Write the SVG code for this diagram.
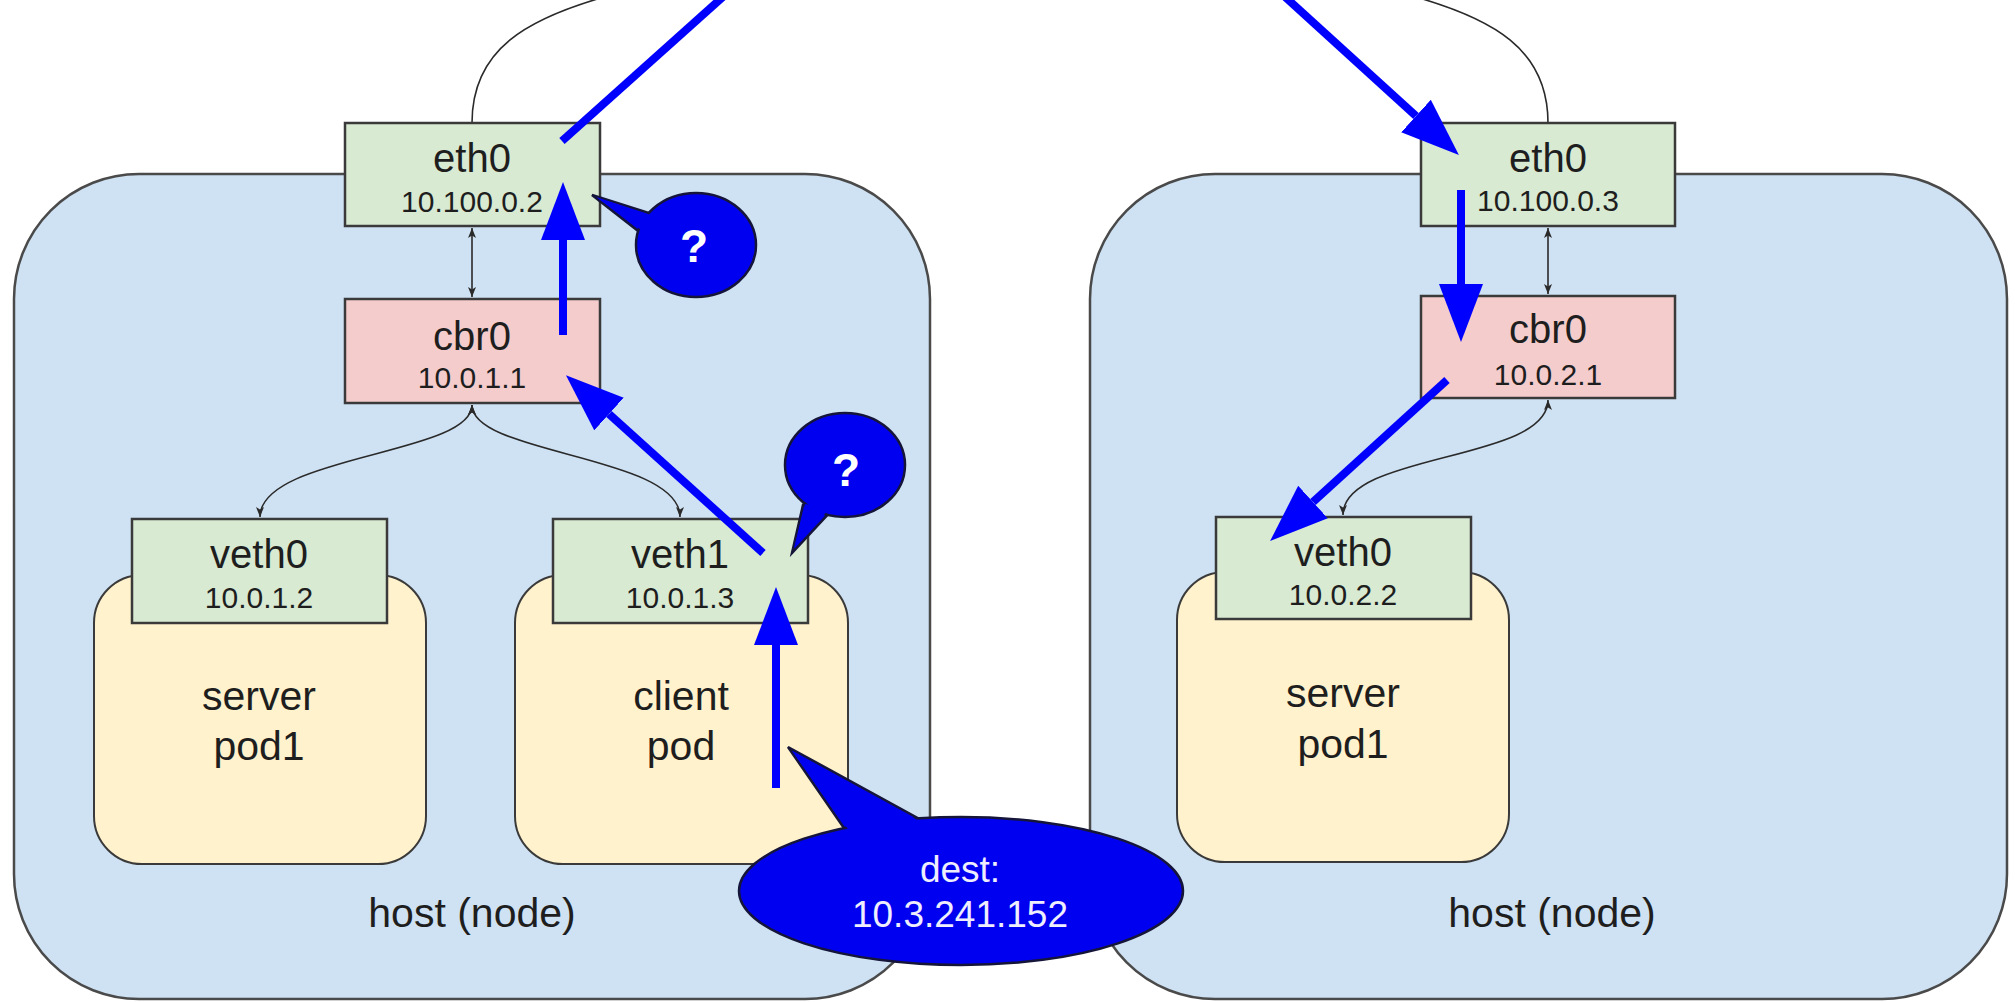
<svg xmlns="http://www.w3.org/2000/svg" width="2015" height="1002" viewBox="0 0 2015 1002">
<style>
.host{fill:#cfe2f3;stroke:#4a4a4a;stroke-width:2.5}
.pod{fill:#fff2cc;stroke:#3a3a3a;stroke-width:2}
.eth{fill:#d9ead3;stroke:#3a3a3a;stroke-width:2.5}
.br{fill:#f4cccc;stroke:#3a3a3a;stroke-width:2.5}
.name{font-family:"Liberation Sans",Arial,sans-serif;font-size:40px;fill:#1e1e1e;text-anchor:middle}
.ip{font-family:"Liberation Sans",Arial,sans-serif;font-size:30px;fill:#1e1e1e;text-anchor:middle}
.lbl{font-family:"Liberation Sans",Arial,sans-serif;font-size:41px;fill:#1e1e1e;text-anchor:middle}
.thin{fill:none;stroke:#2a2a2a;stroke-width:1.6}
.blue{fill:none;stroke:#0000ff;stroke-width:8}
.bub{fill:#0000f0;stroke:#15153a;stroke-width:2.5}
.bubf{fill:#0000f0;stroke:none}
.q{font-family:"Liberation Sans",Arial,sans-serif;font-size:46px;font-weight:bold;fill:#ffffff;text-anchor:middle}
.dt{font-family:"Liberation Sans",Arial,sans-serif;font-size:37px;fill:#eeeeff;text-anchor:middle}
</style>
<defs>
<marker id="sm" viewBox="0 0 10 8" refX="10" refY="4" markerWidth="10" markerHeight="8" markerUnits="userSpaceOnUse" orient="auto-start-reverse">
<path d="M0,0 L10,4 L0,8 L2.5,4 z" fill="#2a2a2a"/>
</marker>
<marker id="big" viewBox="0 0 58 44" refX="0" refY="22" markerWidth="58" markerHeight="44" markerUnits="userSpaceOnUse" orient="auto">
<path d="M0,0 L58,22 L0,44 z" fill="#0000ff"/>
</marker>
</defs>

<g id="host-left">
<rect class="host" x="14" y="174" width="916" height="825" rx="125" ry="125"/>
<text class="lbl" x="472" y="927">host (node)</text>
</g>
<g id="host-right">
<rect class="host" x="1090" y="174" width="917" height="825" rx="125" ry="125"/>
<text class="lbl" x="1552" y="927">host (node)</text>
</g>

<g id="pod-server-left">
<rect class="pod" x="94" y="575" width="332" height="289" rx="48" ry="48"/>
<text class="lbl" x="259" y="710">server</text>
<text class="lbl" x="259" y="760">pod1</text>
</g>
<g id="pod-client">
<rect class="pod" x="515" y="575" width="333" height="289" rx="48" ry="48"/>
<text class="lbl" x="681" y="710">client</text>
<text class="lbl" x="681" y="760">pod</text>
</g>
<g id="pod-server-right">
<rect class="pod" x="1177" y="572" width="332" height="290" rx="48" ry="48"/>
<text class="lbl" x="1343" y="707">server</text>
<text class="lbl" x="1343" y="758">pod1</text>
</g>

<g id="connectors">
<path class="thin" d="M472,123 C472,50 525,18 615,-6"/>
<path class="thin" d="M1548,123 C1548,50 1495,18 1405,-6"/>
<path class="thin" d="M472,228 L472,297" marker-start="url(#sm)" marker-end="url(#sm)"/>
<path class="thin" d="M1548,228 L1548,294" marker-start="url(#sm)" marker-end="url(#sm)"/>
<path class="thin" d="M472,405 C472,455 260,455 260,517" marker-start="url(#sm)" marker-end="url(#sm)"/>
<path class="thin" d="M472,405 C472,455 680,455 680,517" marker-start="url(#sm)" marker-end="url(#sm)"/>
<path class="thin" d="M1548,400 C1548,462 1343,452 1343,515" marker-start="url(#sm)" marker-end="url(#sm)"/>
</g>

<g id="eth0-left">
<rect class="eth" x="345" y="123" width="255" height="103"/>
<text class="name" x="472" y="172">eth0</text>
<text class="ip" x="472" y="212">10.100.0.2</text>
</g>
<g id="cbr0-left">
<rect class="br" x="345" y="299" width="255" height="104"/>
<text class="name" x="472" y="350">cbr0</text>
<text class="ip" x="472" y="388">10.0.1.1</text>
</g>
<g id="veth0-left">
<rect class="eth" x="132" y="519" width="255" height="104"/>
<text class="name" x="259" y="568">veth0</text>
<text class="ip" x="259" y="608">10.0.1.2</text>
</g>
<g id="veth1-left">
<rect class="eth" x="553" y="519" width="255" height="104"/>
<text class="name" x="680" y="568">veth1</text>
<text class="ip" x="680" y="608">10.0.1.3</text>
</g>
<g id="eth0-right">
<rect class="eth" x="1421" y="123" width="254" height="103"/>
<text class="name" x="1548" y="172">eth0</text>
<text class="ip" x="1548" y="211">10.100.0.3</text>
</g>
<g id="cbr0-right">
<rect class="br" x="1421" y="296" width="254" height="102"/>
<text class="name" x="1548" y="343">cbr0</text>
<text class="ip" x="1548" y="385">10.0.2.1</text>
</g>
<g id="veth0-right">
<rect class="eth" x="1216" y="517" width="255" height="102"/>
<text class="name" x="1343" y="566">veth0</text>
<text class="ip" x="1343" y="605">10.0.2.2</text>
</g>

<g id="packet-path">
<path class="blue" d="M776,788 L776,645" marker-end="url(#big)"/>
<path class="blue" d="M763,553 L609,414" marker-end="url(#big)"/>
<path class="blue" d="M563,335 L563,240" marker-end="url(#big)"/>
<path class="blue" d="M562,141 L725,-5"/>
<path class="blue" d="M1283,-5 L1416,116" marker-end="url(#big)"/>
<path class="blue" d="M1461,190 L1461,284" marker-end="url(#big)"/>
<path class="blue" d="M1447,380 L1313,502" marker-end="url(#big)"/>
</g>

<g id="bubble-eth0">
<polygon class="bub" points="592,195 652,214 642,234"/>
<ellipse class="bub" cx="696" cy="245" rx="60" ry="52"/>
<polygon class="bubf" points="596,197 654,216 644,232"/>
<text class="q" x="694" y="262">?</text>
</g>
<g id="bubble-veth1">
<polygon class="bub" points="792,553 803,505 832,510"/>
<ellipse class="bub" cx="845" cy="465" rx="60" ry="52"/>
<polygon class="bubf" points="794,548 805,504 830,508"/>
<text class="q" x="846" y="486">?</text>
</g>
<g id="bubble-dest">
<polygon class="bub" points="788,747 925,822 848,834"/>
<ellipse class="bub" cx="961" cy="891" rx="222" ry="74"/>
<polygon class="bubf" points="792,751 923,823 850,832"/>
<text class="dt" x="960" y="882">dest:</text>
<text class="dt" x="960" y="927">10.3.241.152</text>
</g>
</svg>
